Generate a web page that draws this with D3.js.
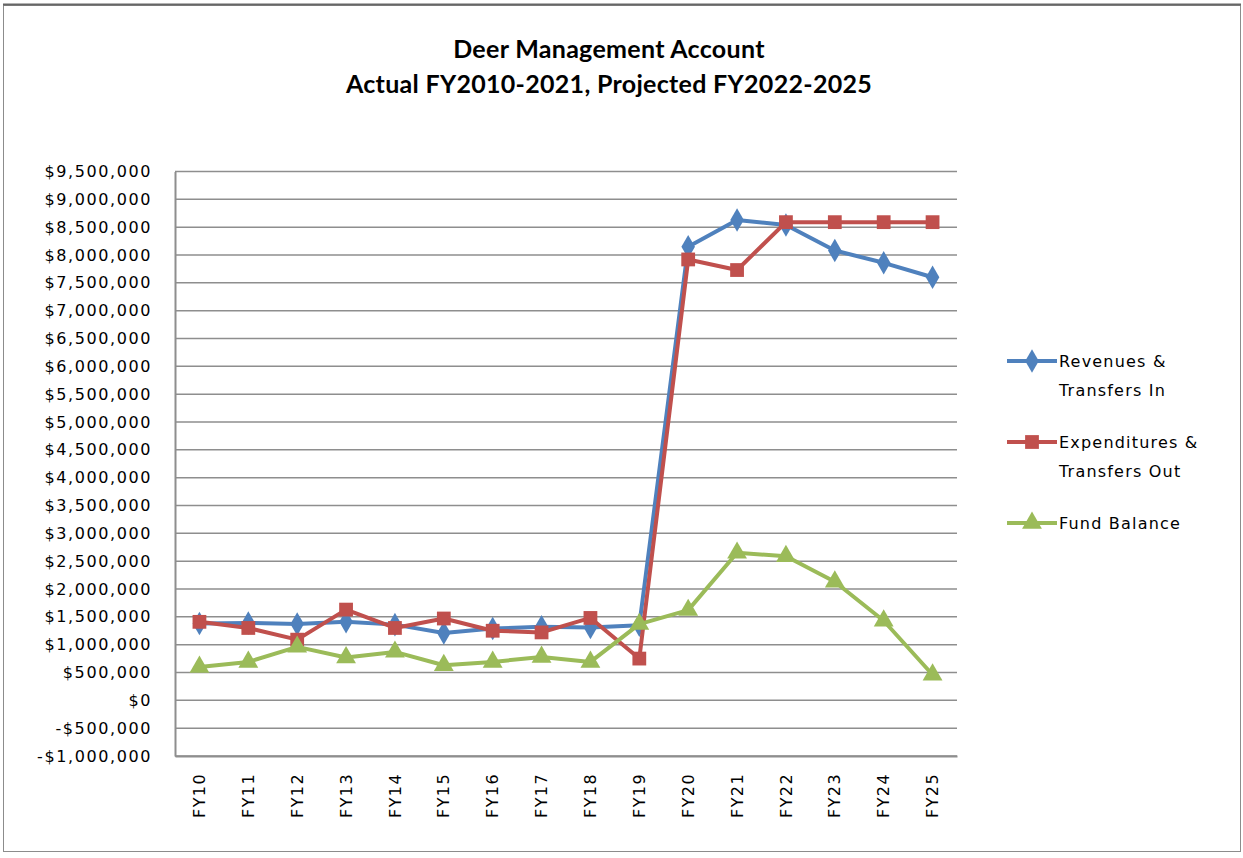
<!DOCTYPE html>
<html>
<head>
<meta charset="utf-8">
<script src="https://cdn.jsdelivr.net/npm/d3@7"></script>
<style>
  body { margin: 0; background: #fff; }
  svg text { font-family: "DejaVu Sans", Verdana, sans-serif; }
</style>
</head>
<body>
<svg width="1243" height="858"></svg>
<script>
// fiscal years on the x axis
var years = ["FY10","FY11","FY12","FY13","FY14","FY15","FY16","FY17","FY18","FY19","FY20","FY21","FY22","FY23","FY24","FY25"];

// values
var revenues = [1380000,1390000,1370000,1410000,1360000,1210000,1290000,1320000,1310000,1350000,8150000,8630000,8540000,8080000,7860000,7600000];
var expenditures = [1410000,1300000,1090000,1630000,1300000,1470000,1250000,1220000,1480000,750000,7920000,7730000,8590000,8590000,8590000,8590000];
var fundBalance = [600000,690000,960000,770000,870000,630000,690000,780000,690000,1370000,1620000,2650000,2590000,2130000,1430000,460000];

var yTicks = d3.range(-1000000, 9500001, 500000);
var seriesNames = [["Revenues &", "Transfers In"], ["Expenditures &", "Transfers Out"], ["Fund Balance"]];
var colors = ["#4F81BD", "#C0504D", "#9BBB59"];
var shapes = [d3.symbolDiamond, d3.symbolSquare, d3.symbolTriangle];

var svg = d3.select("svg");

// chart border
svg.append("rect")
    .attr("x", 3.5).attr("y", 5.5)
    .attr("width", 1237).attr("height", 846)
    .attr("fill", "#fff")
    .attr("stroke", "#8c8c8c")
    .attr("stroke-width", 1);
svg.append("line")
    .attr("x1", 3).attr("x2", 1241)
    .attr("y1", 4.5).attr("y2", 4.5)
    .attr("stroke", "#666").attr("stroke-width", 2);

// title
var title = svg.append("text")
    .attr("x", 609).attr("y", 58)
    .attr("text-anchor", "middle")
    .attr("font-size", "25px")
    .attr("font-weight", "bold")
    .style("letter-spacing", "0.3px")
    .style("font-family", "Lato, 'Open Sans', sans-serif");
title.append("tspan").attr("x", 609).text("Deer Management Account");
title.append("tspan").attr("x", 609).attr("dy", 35).text("Actual FY2010-2021, Projected FY2022-2025");

var x = d3.scaleBand().domain(years).range([175, 957]);
var y = d3.scaleLinear().domain([-1000000, 9500000]).range([756, 171.5]);

function money(v) {
    return (v < 0 ? "-" : "") + "$" + d3.format(",")(Math.abs(v));
}

// gridlines
svg.append("g")
    .selectAll("line")
    .data(yTicks)
    .enter().append("line")
    .attr("x1", 175).attr("x2", 957)
    .attr("y1", function(d) { return y(d); })
    .attr("y2", function(d) { return y(d); })
    .attr("stroke", "#8e8e8e")
    .attr("stroke-width", 1.5);

// y axis
var yAxis = svg.append("g")
    .attr("transform", "translate(175,0)")
    .call(d3.axisLeft(y).tickValues(yTicks).tickFormat(money).tickSize(0).tickPadding(23));
yAxis.select(".domain").attr("stroke", "#8e8e8e").attr("stroke-width", 2);
yAxis.selectAll("text")
    .attr("font-size", "16px")
    .attr("fill", "#000")
    .style("letter-spacing", "1.6px");

// x axis
var xAxis = svg.append("g")
    .attr("transform", "translate(0,756)")
    .call(d3.axisBottom(x).tickSize(0));
xAxis.select(".domain").attr("stroke", "#8e8e8e").attr("stroke-width", 2);
xAxis.selectAll("text")
    .attr("font-size", "16px")
    .attr("fill", "#000")
    .style("letter-spacing", "1.4px")
    .attr("transform", "rotate(-90)")
    .attr("text-anchor", "end")
    .attr("x", -17)
    .attr("y", 0)
    .attr("dy", "0.35em");

var line = d3.line()
    .x(function(d, i) { return x(years[i]) + x.bandwidth() / 2; })
    .y(function(d) { return y(d); });

var allSeries = [revenues, expenditures, fundBalance];
var sizes = [160, 190, 170];

allSeries.forEach(function(vals, k) {
    svg.append("path")
        .datum(vals)
        .attr("fill", "none")
        .attr("stroke", colors[k])
        .attr("stroke-width", 4)
        .attr("stroke-linejoin", "round")
        .attr("d", line);

    svg.append("g")
        .selectAll("path")
        .data(vals)
        .enter().append("path")
        .attr("d", d3.symbol().type(shapes[k]).size(sizes[k]))
        .attr("transform", function(d, i) {
            return "translate(" + (x(years[i]) + x.bandwidth() / 2) + "," + y(d) + ")";
        })
        .attr("fill", colors[k]);
});

// legend
var legendY = [361, 442, 523];
var legend = svg.append("g");
seriesNames.forEach(function(name, k) {
    var g = legend.append("g").attr("transform", "translate(1007," + legendY[k] + ")");
    g.append("line")
        .attr("x1", 0).attr("x2", 50)
        .attr("stroke", colors[k]).attr("stroke-width", 4);
    g.append("path")
        .attr("d", d3.symbol().type(shapes[k]).size(sizes[k]))
        .attr("transform", "translate(25,0)")
        .attr("fill", colors[k]);
    var t = g.append("text")
        .attr("x", 52)
        .attr("font-size", "16px")
        .style("letter-spacing", "1.2px")
        .attr("fill", "#000");
    name.forEach(function(s, j) {
        t.append("tspan").attr("x", 52).attr("y", j * 29).attr("dy", "0.35em").text(s);
    });
});
</script>
</body>
</html>
